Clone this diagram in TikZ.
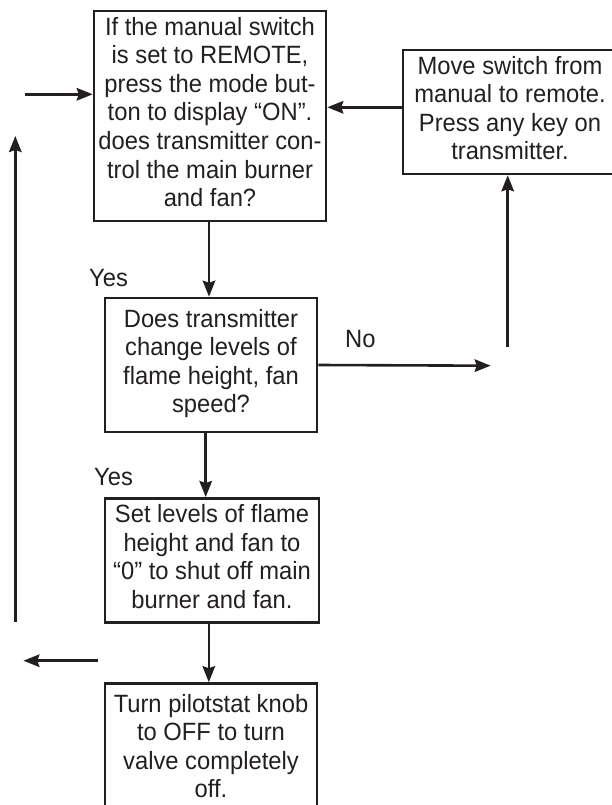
\documentclass[tikz,border=0pt]{standalone}
\usepackage{fontspec}
\setmainfont{Liberation Sans}[FakeStretch=0.95]
\usetikzlibrary{arrows.meta}
\definecolor{ink}{HTML}{231F20}
\newcommand\ls{\rule[-9.3pt]{0pt}{28.6pt}}
\tikzset{
  box/.style={draw=ink, line width=2.6pt, inner sep=0pt, align=center, text=ink,
    font=\fontsize{25}{28.6}\selectfont},
  lbl/.style={inner sep=0pt, text=ink, font=\fontsize{25}{28.6}\selectfont, anchor=base west},
  arr/.style={draw=ink, line width=2.6pt, -{Stealth[length=16pt,width=12.5pt,inset=2pt]}},
  ln/.style={draw=ink, line width=2.6pt}
}
\begin{document}
\begin{tikzpicture}[x=1pt,y=-1pt]
\useasboundingbox (0,0) rectangle (612,805);
\node[box, minimum width=232pt, minimum height=210pt] (b1) at (210,116)
  {\ls If the manual switch\\\ls is set to REMOTE,\\\ls press the mode but-\\\ls ton to display “ON”.\\\ls does transmitter con-\\\ls trol the main burner\\\ls and fan?};
\node[box, minimum width=214pt, minimum height=124pt] (bR) at (510,112)
  {\ls Move switch from\\\ls manual to remote.\\\ls Press any key on\\\ls transmitter.};
\node[box, minimum width=212pt, minimum height=134pt] (b2) at (211,365)
  {\ls Does transmitter\\\ls change levels of\\\ls flame height, fan\\\ls speed?};
\node[box, minimum width=214pt, minimum height=124.4pt] (b3) at (212,560.5)
  {\ls Set levels of flame\\\ls height and fan to\\\ls “0” to shut off main\\\ls burner and fan.};
\node[box, minimum width=212pt, minimum height=133pt] (b4) at (211,750)
  {\ls Turn pilotstat knob\\\ls to OFF to turn\\\ls valve completely\\\ls off.};
\node[lbl] (yes1) at (89,286) {Yes};
\node[lbl] (yes2) at (94,485) {Yes};
\node[lbl] (no) at (345,347) {No};
\coordinate (inL) at (25,94.3);
\coordinate (upR) at (507.7,346.7);
\coordinate (noEnd) at (490.7,365.7);
\coordinate (loopBot) at (15.3,622);
\coordinate (loopTop) at (15.3,136);
\coordinate (outS) at (97.6,660.7);
\coordinate (outE) at (23.4,660.7);
\draw[arr] (inL) -- (inL -| b1.west);
\draw[arr] ([yshift=4.7pt]bR.west) -- ([yshift=4.7pt]bR.west -| b1.east);
\draw[arr] (upR) -- (upR |- bR.south);
\draw[arr] ([xshift=-1pt]b1.south) -- ([xshift=-1pt]b1.south |- b2.north);
\draw[arr] (b2.east) -- (noEnd);
\draw[arr] ([xshift=-5.3pt]b2.south) -- ([xshift=-5.3pt]b2.south |- b3.north);
\draw[arr] ([xshift=-3.2pt]b3.south) -- ([xshift=-3.2pt]b3.south |- b4.north);
\draw[arr] (loopBot) -- (loopTop);
\draw[arr] (outS) -- (outE);
\end{tikzpicture}
\end{document}
